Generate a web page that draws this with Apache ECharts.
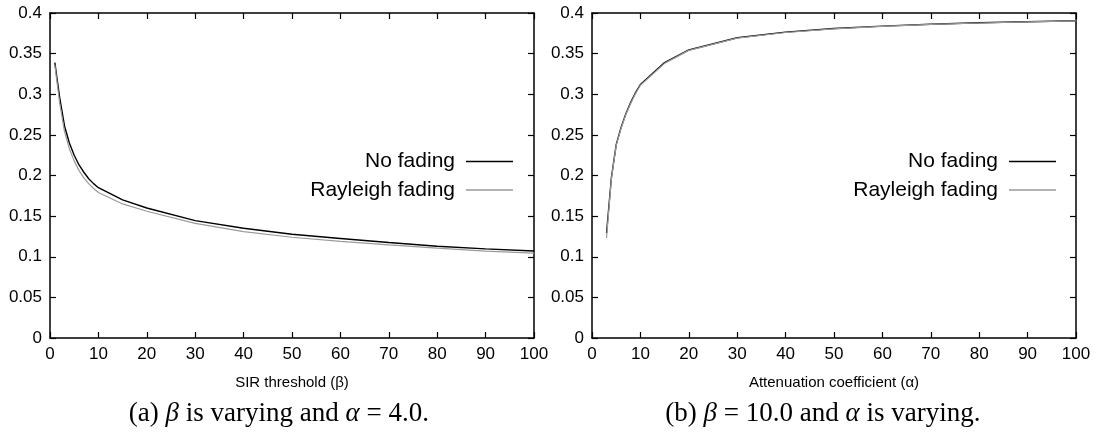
<!DOCTYPE html>
<html>
<head>
<meta charset="utf-8">
<script src="https://cdn.jsdelivr.net/npm/echarts@6/dist/echarts.min.js"></script>
<style>
  html, body { margin: 0; padding: 0; background: #fff; }
  #chart { width: 1097px; height: 432px; }
</style>
</head>
<body>
<div id="chart"></div>
<script>
// (a) SIR threshold beta varies, alpha = 4.0
const betaValues = [1, 2, 3, 4, 5, 6, 7, 8, 9, 10, 15, 20, 30, 40, 50, 60, 70, 80, 90, 100];
const noFadingBeta = [0.339, 0.296, 0.261, 0.240, 0.225, 0.213, 0.204, 0.196, 0.190, 0.185,
                      0.170, 0.160, 0.1445, 0.135, 0.1277, 0.1225, 0.1175, 0.1130, 0.1097, 0.1071];
const rayleighBeta = [0.336, 0.289, 0.254, 0.233, 0.218, 0.206, 0.197, 0.190, 0.184, 0.179,
                      0.165, 0.156, 0.141, 0.131, 0.124, 0.119, 0.1145, 0.1105, 0.107, 0.1045];

// (b) beta = 10.0, attenuation coefficient alpha varies
const alphaValues = [3, 4, 5, 6, 7, 8, 9, 10, 15, 20, 30, 40, 50, 60, 70, 80, 90, 100];
const noFadingAlpha = [0.129, 0.197, 0.238, 0.259, 0.276, 0.290, 0.302, 0.312, 0.339, 0.3545,
                       0.3695, 0.3765, 0.381, 0.3838, 0.3862, 0.388, 0.3893, 0.3905];
const rayleighAlpha = [0.123, 0.196, 0.237, 0.258, 0.275, 0.289, 0.301, 0.311, 0.338, 0.354,
                       0.369, 0.376, 0.3805, 0.3835, 0.386, 0.3877, 0.389, 0.3902];

const seriesNames = ['No fading', 'Rayleigh fading'];
const xTicks = { min: 0, max: 100, interval: 10 };
const yTicks = { min: 0, max: 0.4, interval: 0.05 };

const pairs = (xs, ys) => xs.map((x, i) => [x, ys[i]]);

const SANS = '"Liberation Sans", Arial, Helvetica, sans-serif';
const SERIF = '"Liberation Serif", "Times New Roman", serif';
const CAPTION_SIZE = 27;

const frameLine = { show: true, onZero: false, lineStyle: { color: '#000', width: 1.5 } };
const innerTick = { show: true, inside: true, length: 6, lineStyle: { color: '#000', width: 1.2 } };

function xAxes(gridIndex, name) {
  return [
    {
      type: 'value', gridIndex, position: 'bottom', ...xTicks,
      axisLine: frameLine, axisTick: innerTick, splitLine: { show: false },
      axisLabel: { color: '#000', fontFamily: SANS, fontSize: 17, margin: 8 },
      name, nameLocation: 'middle', nameGap: 37,
      nameTextStyle: { color: '#000', fontFamily: SANS, fontSize: 15 }
    },
    {
      type: 'value', gridIndex, position: 'top', ...xTicks,
      axisLine: frameLine, axisTick: innerTick, splitLine: { show: false },
      axisLabel: { show: false }
    }
  ];
}

function yAxes(gridIndex) {
  return [
    {
      type: 'value', gridIndex, position: 'left', ...yTicks,
      axisLine: frameLine, axisTick: innerTick, splitLine: { show: false },
      axisLabel: { color: '#000', fontFamily: SANS, fontSize: 17, margin: 8 }
    },
    {
      type: 'value', gridIndex, position: 'right', ...yTicks,
      axisLine: frameLine, axisTick: innerTick, splitLine: { show: false },
      axisLabel: { show: false }
    }
  ];
}

function lineSeries(name, axisIdx, data, color, width) {
  return {
    name, type: 'line', xAxisIndex: axisIdx, yAxisIndex: axisIdx,
    data, showSymbol: false, symbol: 'none', smooth: false,
    lineStyle: { color, width }, itemStyle: { color },
    emphasis: { disabled: true }
  };
}

function legendAt(right) {
  return {
    orient: 'vertical', right, top: 151, align: 'right',
    padding: 0, itemGap: 7.5, itemWidth: 47, itemHeight: 1.5,
    selectedMode: false,
    textStyle: { color: '#000', fontFamily: SANS, fontSize: 21, lineHeight: 21, padding: [0, 6, 0, 0] },
    data: [
      { name: seriesNames[0], icon: 'rect', itemStyle: { color: '#000' } },
      { name: seriesNames[1], icon: 'rect', itemStyle: { color: '#9a9a9a' } }
    ]
  };
}

const captionRich = {
  i: { fontFamily: SERIF, fontStyle: 'italic', fontSize: CAPTION_SIZE, color: '#000' }
};

const option = {
  animation: false,
  backgroundColor: '#fff',
  grid: [
    { left: 50, right: 563, top: 13, bottom: 94 },
    { left: 592, right: 21, top: 13, bottom: 94 }
  ],
  xAxis: [...xAxes(0, 'SIR threshold (β)'), ...xAxes(1, 'Attenuation coefficient (α)')],
  yAxis: [...yAxes(0), ...yAxes(1)],
  legend: [legendAt(584), legendAt(41)],
  title: [
    {
      text: '(a) {i|β} is varying and {i|α} = 4.0.',
      left: 279, top: 400, textAlign: 'left', padding: 0,
      textStyle: { fontFamily: SERIF, fontSize: CAPTION_SIZE, fontWeight: 'normal', color: '#000', rich: captionRich }
    },
    {
      text: '(b) {i|β} = 10.0 and {i|α} is varying.',
      left: 823, top: 400, textAlign: 'left', padding: 0,
      textStyle: { fontFamily: SERIF, fontSize: CAPTION_SIZE, fontWeight: 'normal', color: '#000', rich: captionRich }
    }
  ],
  series: [
    lineSeries(seriesNames[0], 0, pairs(betaValues, noFadingBeta), '#000', 1.4),
    lineSeries(seriesNames[1], 0, pairs(betaValues, rayleighBeta), '#9a9a9a', 1.2),
    lineSeries(seriesNames[0], 2, pairs(alphaValues, noFadingAlpha), '#000', 1.4),
    lineSeries(seriesNames[1], 2, pairs(alphaValues, rayleighAlpha), '#9a9a9a', 1.2)
  ]
};

// Title components are positioned by their left edge; shift each caption so it
// is centred on its anchor once its width is known.
const chart = echarts.init(document.getElementById('chart'), null, { renderer: 'canvas' });
chart.setOption(option);

function centreCaptions() {
  const anchors = [279, 823];
  const measure = document.createElement('canvas').getContext('2d');
  const titles = option.title.map((t, k) => {
    const plain = t.text.replace(/\{i\|([^}]*)\}/g, '$1');
    measure.font = CAPTION_SIZE + 'px ' + SERIF;
    const w = measure.measureText(plain).width;
    return Object.assign({}, t, { left: anchors[k] - w / 2 });
  });
  chart.setOption({ title: titles });
}
centreCaptions();
</script>
</body>
</html>
